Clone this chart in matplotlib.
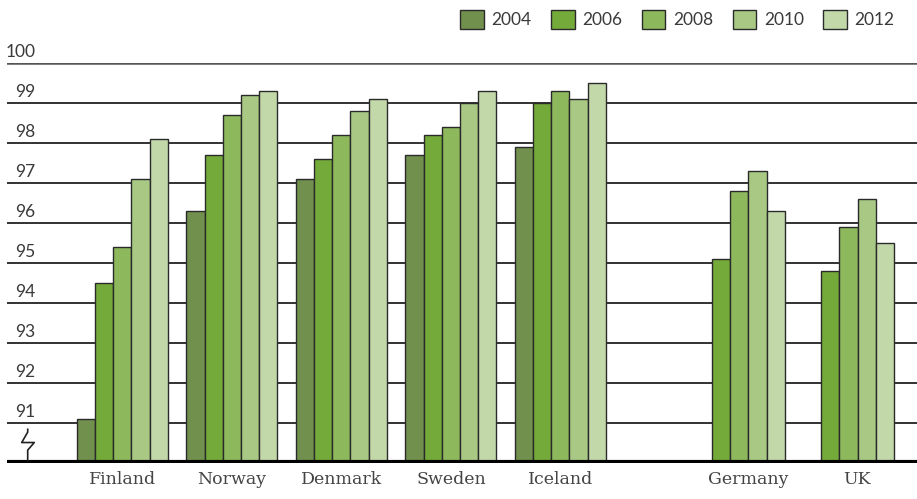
import matplotlib
matplotlib.use("Agg")
import matplotlib.pyplot as plt
import matplotlib.transforms as mtransforms
from matplotlib.patches import Patch
import numpy as np

# data
countries = ["Finland", "Norway", "Denmark", "Sweden", "Iceland", "Germany", "UK"]
years = ["2004", "2006", "2008", "2010", "2012"]
v2004 = [91.1, 96.3, 97.1, 97.7, 97.9, np.nan, np.nan]
v2006 = [94.5, 97.7, 97.6, 98.2, 99.0, 95.1, 94.8]
v2008 = [95.4, 98.7, 98.2, 98.4, 99.3, 96.8, 95.9]
v2010 = [97.1, 99.2, 98.8, 99.0, 99.1, 97.3, 96.6]
v2012 = [98.1, 99.3, 99.1, 99.3, 99.5, 96.3, 95.5]
yticks = [91, 92, 93, 94, 95, 96, 97, 98, 99, 100]

series = [v2004, v2006, v2008, v2010, v2012]
colors = ["#71904d", "#74aa3a", "#8db85c", "#a8c884", "#c2d8a8"]

# group positions, gap before Germany
xpos = np.array([0, 1, 2, 3, 4, 5.635, 6.631])
w = 0.166
base = 90

fig = plt.figure(figsize=(9.17, 4.99), dpi=100)
ax = fig.add_axes([7/917, 36.5/499, 910/917, 399.5/499])
ax.set_xlim(-1.054, 7.257)
ax.set_ylim(90, 100)

for yv in yticks:
    col = "#555555" if yv == 100 else "#222222"
    ax.axhline(yv, color=col, lw=1.8 if yv == 100 else 1.3, zorder=1)
ax.axhline(90, color="black", lw=3, zorder=4)

for i, vals in enumerate(series):
    vals = np.array(vals)
    ok = ~np.isnan(vals)
    ax.bar(xpos[ok] + (i - 2) * w, vals[ok] - base, bottom=base, width=w,
           color=colors[i], edgecolor="#2a2a2a", linewidth=1.0, zorder=3)

trans = mtransforms.blended_transform_factory(ax.transAxes, ax.transData)
for yv in yticks:
    ax.text(0.031, yv + 0.07, str(yv), transform=trans, ha="right", va="bottom",
            fontsize=12.5, family="Lato", color="#3a3a3a", clip_on=False)

# axis break mark
bx = np.array([27.7, 27.7, 21.7, 34.3, 27.7, 27.7]) - 7
by = np.array([0.83, 0.76, 0.5, 0.5, 0.31, 0.06]) + base
ax.plot(bx / 910, by, color="#222222", lw=1.2, transform=trans, clip_on=False, zorder=5)

# category labels: nordic centred on group, others on the drawn bars
label_x = xpos.copy()
label_x[5:] = xpos[5:] + w / 2
ax.set_xticks(label_x)
ax.set_xticklabels(countries, fontsize=12.5, family="DejaVu Serif", color="#444444")
ax.tick_params(axis="x", length=0, pad=6)
ax.set_yticks([])
for s in ax.spines.values():
    s.set_visible(False)

handles = [Patch(facecolor=c, edgecolor="#2a2a2a", linewidth=1.0) for c in colors]
leg = fig.legend(handles, years, loc="upper right", bbox_to_anchor=(0.986, 1.0), ncol=5,
                 frameon=False, handlelength=1.35, handleheight=1.35, handletextpad=0.45,
                 columnspacing=1.12, prop={"family": "Lato", "size": 12.5},
                 borderaxespad=0.15)
for t in leg.get_texts():
    t.set_color("#3a3a3a")

fig.savefig("out.png", dpi=100)
